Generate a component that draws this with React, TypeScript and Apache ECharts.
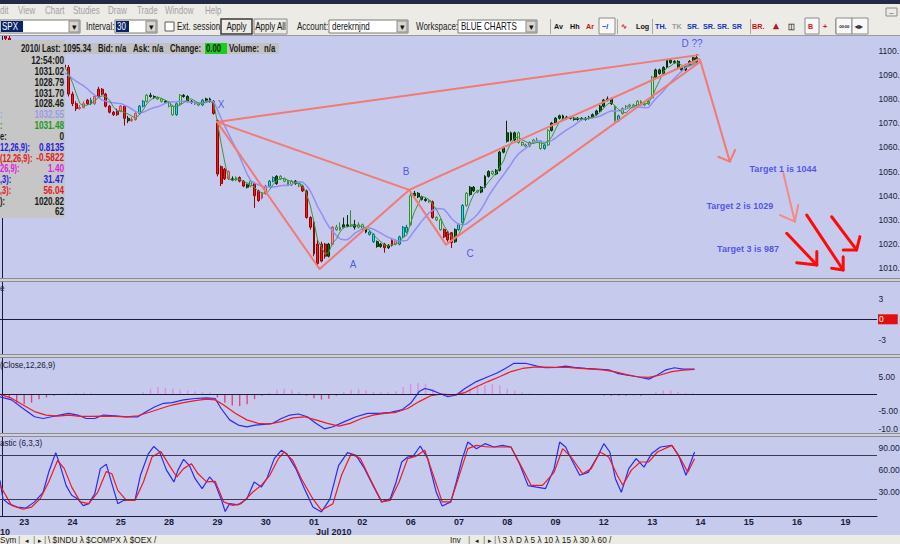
import React, { useEffect, useRef } from "react";
import * as echarts from "echarts";

const FONT = '"Liberation Sans", Arial, Helvetica, sans-serif';

// ---------------- data ----------------
const barCount = 236;
const dayStartIndex = [6, 19, 32, 45, 58, 71, 84, 97, 110, 123, 136, 149, 162, 175, 188, 201, 214, 227];
const dayLabels = ["23", "24", "25", "28", "29", "30", "01", "02", "06", "07", "08", "09", "12", "13", "14", "15", "16", "19"];

// 30-minute bars: [open, close, low, high]
const ohlc: number[][] = [
  [1109,1107,1106,1110],[1107,1105,1104,1108],[1105,1103,1102,1106],[1103,1100,1099,1104],[1100,1097,1096,1101],[1097,1095,1094,1098],
  [1096,1098,1095,1099],[1098,1097,1096,1099.5],[1097,1094,1093,1098],[1094,1090,1089,1095],[1090,1087,1086,1091],[1087,1086,1085,1088],
  [1086,1088,1085.5,1089],[1088,1091,1087,1092],[1091,1093,1090,1094],[1093,1092,1091,1094],[1092,1094,1091,1095],[1094,1093,1092,1095],
  [1093,1082,1081,1094],[1082,1078,1077,1083],[1078,1076,1075,1079],[1076,1076.5,1075.5,1077.5],[1076.5,1078,1076,1079],[1078,1079.5,1077.5,1080],
  [1079.5,1078,1077.5,1080.5],[1078,1081,1077.5,1081.5],[1081,1084,1080.5,1085],[1084,1082,1081.5,1084.5],[1082,1077,1076.5,1082.5],[1077,1074.5,1074,1077.5],
  [1074.5,1073.5,1073,1075],[1073.5,1075,1073,1076],[1075,1077,1074.5,1077.5],[1077,1072,1069,1077.5],[1072,1071,1070,1073],[1071,1071.5,1070.5,1072.5],
  [1071.5,1074,1071,1074.5],[1074,1077,1073.5,1077.5],[1077,1079,1076.5,1079.5],[1079,1081.5,1078.5,1082],[1081.5,1081,1080.5,1082.5],[1081,1080.5,1080,1081.5],
  [1080.5,1080,1079.5,1081],[1080,1079,1078.5,1080.5],[1079,1078.5,1078,1079.5],[1078.5,1077,1076.5,1079],[1077,1073.5,1073,1077.5],[1073.5,1078,1073,1078.5],
  [1078,1081.5,1077.5,1082],[1081.5,1081,1080.5,1082],[1081,1079,1078.5,1081.5],[1079,1078.5,1078,1079.5],[1078.5,1078,1077.5,1079],[1078,1077.5,1077,1078.5],
  [1077.5,1079.5,1077,1080],[1079.5,1080,1079,1080.5],[1080,1079,1078.5,1080.5],[1079,1074,1073.5,1079.5],
  [1071,1049,1048,1071.5],[1052,1045,1044,1052.5],[1051,1047,1046.5,1051.5],[1050,1047,1046.5,1050.5],[1047,1046.5,1046,1048],[1046.5,1047.5,1046,1048],
  [1047.5,1046,1045.5,1048],[1046,1044,1043.5,1046.5],[1044.5,1043.5,1043,1045],[1044,1046,1043.5,1046.5],[1045,1040,1035,1045.5],[1042,1038,1037.5,1042.5],
  [1039,1041,1038.5,1041.5],
  [1041,1044,1040.5,1044.5],[1044,1046,1043.5,1046.5],[1046,1047.5,1045.5,1048],[1045,1048,1044.5,1048.5],[1048,1047,1046.5,1048.5],[1047,1046,1045.5,1047.5],
  [1046,1044.5,1044,1046.5],[1044.5,1046,1044,1046.5],[1046,1045,1044.5,1046.5],[1045,1044,1043.5,1045.5],[1044,1042,1041.5,1044.5],[1042,1031,1030.5,1042.5],
  [1031,1027,1026,1031.5],
  [1029,1016,1015,1029.5],[1020,1012,1010.5,1022],[1013,1020,1012.5,1021],[1020,1015,1014,1020.5],[1015,1020,1014.5,1020.5],[1020,1027,1019.5,1027.5],
  [1027,1026,1025.5,1028],[1026,1027,1025.5,1029],[1027,1028,1026.5,1031],[1028,1027.5,1027,1032],[1027.5,1028,1027,1034],[1028,1027,1026,1030],
  [1027,1028,1026.5,1029],
  [1028,1026,1025.5,1028.5],[1026,1025,1024.5,1027],[1025,1024,1023.5,1025.5],[1024,1021,1020.5,1024.5],[1021,1019,1018.5,1021.5],[1019,1020,1018.5,1020.5],
  [1020,1018.5,1016.5,1020.5],[1018.5,1019.5,1018,1020],[1019.5,1021.5,1019,1022],[1021.5,1020,1019.5,1022],[1020,1023,1019.5,1023.5],[1023,1027,1022.5,1027.5],
  [1027,1025,1024.5,1028],
  [1028,1040,1027.5,1041.5],[1040,1041,1039.5,1042],[1041,1039.5,1039,1041.5],[1039.5,1038.5,1038,1040],[1038.5,1038,1037.5,1039],[1038,1037.5,1037,1038.5],
  [1037.5,1031,1030.5,1038],[1031,1030,1029.5,1031.5],[1030,1026,1025.5,1030.5],[1026,1023,1022.5,1026.5],[1025,1021.8,1021,1025.5],[1024.7,1020.6,1018.4,1025],
  [1021,1026,1020.5,1026.5],
  [1026,1028,1025.5,1028.5],[1029,1036,1028.5,1036.5],[1036,1041,1035.5,1041.5],[1040.5,1043.5,1040,1044],[1043.5,1042,1041.5,1044],[1042,1041.5,1041,1042.5],
  [1041.5,1043.5,1041,1044],[1043.5,1048,1043,1048.5],[1048,1050,1047.5,1050.5],[1050,1049,1048.5,1050.5],[1049,1050.5,1048.5,1051],[1050.5,1058,1050,1058.5],
  [1058,1060,1057.5,1060.5],
  [1062.5,1066,1062,1071],[1066,1063,1062.5,1066.5],[1063,1066,1062.5,1066.5],[1066,1062,1061.5,1066.5],[1062,1061,1060.5,1062.5],[1061,1060.5,1060,1061.5],
  [1060.5,1062,1060,1062.5],[1062,1063,1061.5,1063.5],[1063,1062.5,1062,1064],[1062.5,1059.5,1059,1063],[1059.5,1061,1059,1061.5],[1061,1067,1060.5,1067.5],
  [1067,1070,1066.5,1070.5],
  [1070,1072,1069.5,1072.5],[1072,1073,1071.5,1073.5],[1073,1072,1071.5,1073.5],[1072,1072.5,1071.5,1073],[1072.5,1072,1071.5,1073],[1072,1071.5,1071,1072.5],
  [1071.5,1072,1071,1072.5],[1072,1071.5,1071,1072.5],[1071.5,1072,1071,1072.5],[1072,1072.5,1071.5,1073],[1072.5,1073.5,1072,1074],[1073.5,1075,1073,1075.5],
  [1075,1077,1074.5,1077.5],
  [1077,1079.5,1076.5,1080],[1079.5,1080,1079,1081],[1080,1078,1077.5,1080.5],[1077,1071,1070.5,1077.5],[1071,1073,1070.5,1073.5],[1074,1076,1073.5,1076.5],
  [1076,1077,1075.5,1077.5],[1077,1077.5,1076.5,1078],[1077.5,1077,1076.5,1078],[1077,1079,1076.5,1079.5],[1079,1077.5,1077,1079.5],[1077.5,1078,1077,1078.5],
  [1078,1079,1077.5,1079.5],
  [1080.5,1089,1080,1089.5],[1089,1092,1088.5,1092.5],[1092,1090.5,1090,1092.5],[1090.5,1093,1090,1093.5],[1093,1096,1092.5,1096.5],[1096,1095,1094.5,1096.5],
  [1095,1095.5,1094.5,1096],[1095.5,1093,1092.5,1096],[1093,1092,1091.5,1093.5],[1092,1094,1091.5,1094.5],[1094,1095.5,1093.5,1096],[1095.5,1097,1095,1097.5],
  [1097,1095.34,1095,1098.5],
];

// candle colour code per bar (r red, s salmon, c cyan, l light green, g dark green)
const barColors =
  "rrrrrr" + "rrrrrrcccgrr" +
  "rrrssrcsrr" + "rrrrsrgssc" + "clggllgllc" + "lgggllcggr" + "rrrsglrrgl" +
  "rrssccglll" + "lglrrrrrrr" + "gsllgglgll" + "gccggrgrsc" + "cclgggglrl" +
  "lrrrgcclgg" + "lggglggggg" + "glllllllcl" + "gggggggggg" + "ggggggglcl" +
  "llllllllgg" + "gggggggggg";

const priceTicks = [1010, 1020, 1030, 1040, 1050, 1060, 1070, 1080, 1090, 1100];
const panel2Ticks = [3, -3];
const macdTicks = [5, -5, -10];
const stochTicks = [90, 60, 30];

// MACD (12,26,9): [bar, value]
const macdLine = [
  [-0.5,-0.8],[2.6,-1.7],[5.7,-4.2],[8.8,-6.6],[11.1,-7.1],[13.4,-6.6],[16.5,-5.9],[18,-5.6],[20.4,-6.1],[22.7,-7.1],[25,-7.1],[27.3,-6.1],
  [30.4,-6.3],[33.5,-6.6],[36.6,-6.6],[38.9,-5.1],[41.2,-3.7],[43.5,-2.7],[45.8,-2.5],[48.9,-1.7],[52,-1.3],[55.1,-1.1],[57.4,-1.3],[59,-4.2],
  [61.3,-7.5],[63.6,-9],[65.9,-9.5],[68.2,-9],[70.6,-8.8],[72.9,-8.5],[75.2,-7.1],[77.5,-6.1],[79.8,-5.8],[82.2,-6.6],[84.5,-8.5],[86.8,-10.1],
  [89.1,-9.5],[92.2,-8],[95.3,-6.6],[98.4,-5.6],[101.5,-5.6],[104.6,-5.3],[107.6,-4.6],[110,-2.7],[112.3,0.7],[113.8,1.6],[115.4,1.2],[117.7,0.2],
  [120,-0.8],[122.3,-0.3],[124.6,1.6],[127.7,3.6],[130.8,5],[133.1,6],[135.5,7.4],[137.8,8.9],[140.9,8.9],[144,8.1],[146.3,7.6],[149.4,7.7],
  [151.7,8.1],[154,7.7],[157.1,7.4],[160.2,7.2],[163.3,7],[165.6,6],[167.9,5.5],[171,5],[174.1,4.3],[176.4,5.5],[178.7,7],[181,7.6],[183.3,7.2],[186.4,7.2],
];
const signalLine = [
  [-0.5,-0.1],[2.6,-1.2],[5.7,-3.2],[8.8,-5.1],[11.9,-6.1],[15,-6.4],[18,-6.1],[21.1,-6.5],[24.2,-6.5],[27.3,-6.4],[30.4,-6.5],[33.5,-6.6],
  [36.6,-6.3],[39.7,-5.3],[42.8,-4.2],[45.8,-3.2],[48.9,-2.5],[52,-1.9],[55.1,-1.5],[57.4,-1.7],[59.7,-3.2],[62.8,-5.6],[65.9,-7.5],[69,-8.5],
  [72.1,-8.7],[75.2,-8],[78.3,-6.9],[81.4,-6.6],[84.5,-7.5],[87.6,-8.5],[90.7,-9.3],[93.7,-8.5],[96.8,-7.1],[99.9,-6.1],[103,-5.6],[106.1,-5.3],
  [109.2,-4.2],[112.3,-2.2],[115.4,-0.5],[118.5,0],[121.5,-0.3],[124.6,0.4],[127.7,2.1],[130.8,3.6],[133.9,5],[137,6.5],[140.1,7.4],[143.2,7.8],
  [146.3,7.8],[149.4,7.7],[152.4,7.7],[155.5,7.4],[158.6,7.2],[161.7,7],[164.8,6.5],[167.9,5.7],[171,5],[174.1,4.8],[177.2,5.5],[180.3,6.5],
  [183.3,6.9],[186.4,7.1],
];
const macdHist = [
  [0,-0.6],[2,-1.2],[4,-2.5],[6,-3],[8,-2.5],[10,-1.5],[12,-1],[14,-0.5],[16,0.1],[18,0.2],[20,0.3],[22,0.4],[24,0.2],[26,-0.1],[28,-0.2],
  [30,-0.1],[32,0],[34,0],[36,-0.2],[38,0.5],[40,1.5],[42,2],[44,1.8],[46,1.5],[48,1.2],[50,1],[52,0.8],[54,0.6],[56,0.4],[58,-1],[60,-2.5],
  [62,-3.3],[64,-3.5],[66,-3],[68,-1.5],[70,-0.5],[72,0.3],[74,1.2],[76,1.5],[78,1.2],[80,0.6],[82,-0.5],[84,-1.2],[86,-1.6],[88,-1.4],[90,-0.5],
  [92,0.5],[94,1.2],[96,1.4],[98,1],[100,0.6],[102,0.5],[104,0.5],[106,0.8],[108,2],[110,2.8],[112,3.2],[114,3],[116,1.5],[118,0.2],[120,-0.5],
  [122,-0.3],[124,0.8],[126,1.5],[128,2],[130,2.5],[132,2.8],[134,2.5],[136,1.5],[138,1],[140,0.5],[142,0.2],[144,0],[146,-0.2],[148,0.1],
  [150,0],[152,0.1],[154,0],[156,0],[158,-0.1],[160,-0.2],[162,-0.4],[164,-0.5],[166,-0.5],[168,-0.5],[170,-0.4],[172,-0.5],[174,-0.3],
  [176,0.5],[178,1],[180,1.1],[182,0.6],[184,0.3],[186,0.2],
];

// Stochastic (6,3,3): [bar, value]
const stochK = [
  [-0.5,46],[0.3,21],[1.8,14.6],[4.1,10],[6.5,8.7],[8.8,17],[11.1,30],[12.6,57],[14.5,83.6],[15.7,66],[17.3,39],[18.8,26],[20.4,21],[21.9,12],
  [23.4,14.6],[25,28],[26.5,62],[28.1,68],[29.6,41.7],[31.2,14.6],[32.7,19],[34.3,19],[35.8,19],[37.3,53],[39.4,82],[40.9,92],[42.4,85],
  [44.3,60],[46.3,44],[47.4,60],[48.9,74.6],[50.5,66],[52,48.4],[53.9,35],[55.9,50.7],[57.4,41.7],[59,21],[60.1,4],[61.3,14.6],[63.6,13],
  [65.9,21],[67.9,44],[69.8,37],[71.3,48.4],[73.3,75.5],[75.2,86.8],[76.7,82],[79.1,62],[81.4,35],[83.7,10],[86,3.3],[88.3,21],[90.6,66],
  [93,83.6],[95.3,80],[97.6,62],[99.9,39],[102.2,17],[104.5,21],[106.1,44],[107.6,71],[109.2,77.7],[110.7,79],[112.6,92.6],[114.6,75.5],
  [116.9,30],[118.5,11.4],[120.8,17],[122.3,44],[123.9,75.5],[125.4,98],[127.7,89],[130,95.8],[132.4,91.3],[134.7,93.5],[137,91.3],[139.3,68.7],
  [141.6,39],[143.9,37],[146.3,35],[148.6,62],[150.1,98],[151.7,91.3],[153.2,75.5],[155.5,53],[157.8,57],[160.2,77.7],[162,95.8],[163.6,84.5],
  [165.1,48.4],[166.7,30],[168.7,62],[170.7,75.5],[172.8,64],[174.8,82],[177.2,91.3],[180.3,93.5],[182.1,80],[184.1,53],[186.4,84.5],
];
const stochD = [
  [-0.5,39.4],[2.6,12.3],[5.7,7],[8,10],[10.3,21],[12.6,44],[15,73],[16.8,62],[18.8,37],[21.1,17],[23.4,14.6],[25.8,30],[28.1,58],[29.6,55],
  [31.2,32.6],[33.5,19],[35.8,19],[38.1,44],[40.4,77.7],[42.8,85],[45.1,66],[47.1,50.7],[48.9,62],[51,68.7],[52.8,55],[55.1,44],[57.4,44.8],
  [59.7,17],[62.1,12.3],[64.4,14.6],[67.5,30],[69.8,39.4],[72.1,53],[74.4,75.5],[76,84.5],[78.3,73],[80.6,48.4],[83.7,21],[86,5.6],[89.1,14.6],
  [91.4,53],[94,82],[96.5,75.5],[99.1,48.4],[102.2,17],[104.5,19],[106.9,44],[109.2,75.5],[111.5,79],[113.8,86.8],[116.1,53],[118.5,17],
  [120.8,17],[123.1,53],[125.4,89],[127.7,93.5],[130.8,91.3],[133.9,91.3],[137,91.3],[140.1,62],[142.4,39.4],[145.5,39.4],[148.6,57],[150.9,89],
  [153.2,77.7],[156.3,55],[158.6,62],[161,84.5],[163.3,77.7],[165.6,53],[167.1,39.4],[169.4,60],[171.8,71],[174.1,71],[176.4,84.5],[180.3,93.5],
  [182.6,75.5],[184.6,57],[186.4,75.5],
];

// readouts shown in the right-hand boxes (as far as the window shows them)
const lastPrice = 1095.34;
const lastPriceText = "1095.";
const panel2Value = 0;
const macdReadout = 6.6;
const histReadout = 0.078;
const stochReadout = 76.92;

// drawn XABCD pattern and arrows, in [bar, price]
const patternPath = [[57.9,1070.5],[85.5,1009.7],[109.6,1042.4],[119.5,1019.8],[187.9,1095.3]];
const patternXB = [[57.9,1070.5],[109.6,1042.4]];
const patternBD = [[109.6,1042.4],[187.6,1096.5]];
const patternXD = [[57.9,1070.5],[187.3,1098.1]];
const arrowD = [[187.9,1096.1],[195.9,1054.1]];
const arrowDHead = [[192.8,1056.1],[195.9,1054.1],[197.3,1058.9]];
const arrowT1 = [[210.3,1049.3],[213.4,1029.3]];
const arrowT1Head = [[209.4,1032.0],[213.4,1029.3],[214.3,1036.2]];
const arrowR1 = [[211.2,1024.5],[219.3,1011.4]];
const arrowR1Head = [[213.9,1012.3],[219.3,1011.4],[219.3,1016.9]];
const arrowR2 = [[216.6,1032.0],[226.4,1009.3]];
const arrowR2Head = [[223.3,1010.0],[226.4,1009.3],[226.4,1014.8]];
const arrowR3 = [[223.3,1031.3],[230.0,1017.6]];
const arrowR3Head = [[226.4,1017.6],[230.0,1017.6],[230.9,1023.1]];

const noteTexts = ["X", "A", "B", "C", "D ??", "Target 1 is 1044", "Target 2 is 1029", "Target 3 is 987"];
const notePos = [[59,1077.5],[94.5,1011.4],[108.8,1050.2],[126,1016.3],[185.7,1102.7],[210.2,1051],[198.6,1035.8],[200.8,1018]];

// ---------------- helpers ----------------
const palette: Record<string, [string, string]> = {
  r: ["#ee1a1a", "#980000"],
  s: ["#f39292", "#c05050"],
  c: ["#22e2e2", "#0a7070"],
  l: ["#b6f0b6", "#3a883a"],
  g: ["#0c6a0c", "#033003"],
};

const categories = Array.from({ length: barCount }, (_, i) => "b" + i);
const labelAt = (i: number) => {
  const k = dayStartIndex.indexOf(i);
  return k >= 0 ? dayLabels[k] : "";
};
const closes = ohlc.map((r) => r[1]);
const sma = (n: number) =>
  closes.map((_, i) => {
    if (i < n - 1) return null;
    let s = 0;
    for (let j = i - n + 1; j <= i; j++) s += closes[j];
    return +(s / n).toFixed(2);
  });

const seg = (data: number[][], color: string, width: number) => ({
  type: "line",
  xAxisIndex: 1,
  yAxisIndex: 0,
  data,
  showSymbol: false,
  symbol: "none",
  silent: true,
  z: 5,
  lineStyle: { color, width, cap: "round", join: "round" },
});

const boxLabel = (text: string, bg: string, color = "#fff") => ({
  show: true,
  position: "end",
  distance: 1,
  formatter: text,
  color,
  backgroundColor: bg,
  padding: [1, 1, 0, 1],
  fontSize: 8.5,
  fontFamily: FONT,
});

const yBase = (gridIndex: number, min: number, max: number, ticks: number[], fmt: (v: number) => string) => ({
  type: "value",
  gridIndex,
  position: "right",
  min,
  max,
  axisLine: { show: true, lineStyle: { color: "#1a1a3a", width: 1 } },
  axisTick: { show: false },
  splitLine: { show: false },
  axisLabel: { color: "#1a1a3a", fontSize: 8.5, fontFamily: FONT, margin: 1.5, customValues: ticks, formatter: fmt },
});

function buildChrome() {
  const g: any[] = [];
  const R = (x: number, y: number, w: number, h: number, fill: string, stroke?: string, lw = 1, z = 100) =>
    g.push({ type: "rect", z, silent: true, shape: { x, y, width: w, height: h }, style: { fill, stroke: stroke || null, lineWidth: stroke ? lw : 0 } });
  const T = (x: number, y: number, text: string, fill = "#111", font = `10px ${FONT}`, align = "left", sx = 0.8, z = 101, va = "middle") =>
    g.push({ type: "text", z, silent: true, x, y, scaleX: sx, style: { text, fill, font, textAlign: align, textVerticalAlign: va } });
  const L = (x1: number, y1: number, x2: number, y2: number, stroke: string, lw = 1) =>
    g.push({ type: "line", z: 100, silent: true, shape: { x1, y1, x2, y2 }, style: { stroke, lineWidth: lw } });

  // title strip, menu, toolbar
  R(0, 0, 900, 4, "#242a44");
  R(0, 4, 900, 32, "#ecebe6");
  L(0, 35.5, 900, 35.5, "#9a9a9a");
  const menu: [number, string][] = [[0, "dit"], [18, "View"], [45, "Chart"], [73, "Studies"], [108, "Draw"], [137, "Trade"], [165, "Window"], [205, "Help"]];
  menu.forEach(([x, t]) => T(x, 11, t, "#a2a2a2"));
  R(886, 8, 11, 8, "#ecebe6", "#8a8a8a");
  T(891.5, 12, "–", "#555", `8px ${FONT}`, "center", 1);

  const combo = (x: number, w: number, text: string, hl?: number) => {
    R(x, 20, w, 13, "#ffffff", "#7a7a7a");
    if (hl) {
      R(x + 1, 21, hl, 11, "#0a246a");
      T(x + 2, 26.5, text, "#ffffff");
    } else T(x + 3, 26.5, text, "#111");
    R(x + w - 11, 21, 10, 11, "#d8d6d0", "#8a8a8a");
    T(x + w - 6, 27, "▾", "#111", `9px ${FONT}`, "center", 1);
  };
  combo(0, 80, "SPX", 22);
  T(86, 26.5, "Interval:", "#222");
  combo(115, 42, "30", 13);
  R(165, 22, 9, 9, "#ffffff", "#5a5a5a");
  T(177, 26.5, "Ext. session", "#222");
  R(221, 19, 31, 15, "#ecebe6", "#3a3a3a", 1.5);
  T(236.5, 26.5, "Apply", "#111", `10px ${FONT}`, "center");
  R(254, 19, 33, 15, "#ecebe6", "#8a8a8a");
  T(270.5, 26.5, "Apply All", "#111", `10px ${FONT}`, "center");
  T(297, 26.5, "Account:", "#222");
  combo(329, 79, "derekrnjnd");
  T(416, 26.5, "Workspace:", "#222");
  combo(458, 79, "BLUE CHARTS");
  [550, 617, 652, 750, 805, 835].forEach((x) => L(x + 0.5, 19, x + 0.5, 34, "#a8a8a8"));
  const icons: [number, string, string][] = [
    [554, "Av", "#111"], [570, "Hh", "#111"], [586, "Ar", "#cc1010"], [602, "~/", "#1030d0"], [621, "∿", "#d02020"],
    [636, "Log", "#111"], [655, "TH.", "#1030c0"], [672, "TK", "#9a9a9a"], [687, "SR.", "#1030c0"], [703, "SR.", "#1030c0"],
    [717, "SR.", "#1030c0"], [732, "SR", "#1030c0"], [752, "BR.", "#cc1010"], [773, "⛰", "#aa2020"], [788, "◫", "#333"],
    [808, "B", "#dd1010"], [823, "+", "#dd1010"], [839, "∞∞", "#333"], [855, "◂▸", "#333"],
  ];
  R(599, 18, 16, 16, "#f8f8f8", "#8a8a8a");
  R(805, 18, 14, 16, "#f8f8f8", "#8a8a8a");
  R(836, 18, 16, 16, "#f8f8f8", "#8a8a8a");
  R(852, 18, 16, 16, "#f8f8f8", "#8a8a8a");
  icons.forEach(([x, t, c]) => T(x, 26, t, c, `bold 8px ${FONT}`, "left", 0.9));

  // data window panel (sits under the quote strip)
  R(0, 40, 65, 178, "#c6c6c6", undefined, 1, 98);
  T(21, 48.5, "2010/07/01", "#1a1a1a", `bold 10px ${FONT}`, "left", 0.78, 99);
  const rows: [string, string, string][] = [
    ["", "12:54:00", "#1a1a1a"], ["", "1031.02", "#1a1a1a"], ["", "1028.79", "#1a1a1a"], ["", "1031.70", "#1a1a1a"], ["", "1028.46", "#1a1a1a"],
    [":", "1032.55", "#9a9af4"], [":", "1031.48", "#1a9a1a"], ["e:", "0", "#1a1a1a"], ["12,26,9):", "0.8135", "#2020e0"],
    ["(12,26,9):", "-0.5822", "#e01a1a"], ["26,9):", "1.40", "#e01ae0"], [",3):", "31.47", "#2020e0"], [",3):", "56.04", "#e01a1a"],
    ["):", "1020.82", "#1a1a1a"], ["", "62", "#1a1a1a"],
  ];
  rows.forEach(([lab, val, col], k) => {
    const y = 61 + k * 10.8;
    if (lab) T(0, y, lab, col, `bold 10px ${FONT}`, "left", 0.75, 99);
    T(64, y, val, col, `bold 10px ${FONT}`, "right", 0.82, 99);
  });

  // quote strip
  R(40, 43, 239, 11, "#c2c2c2", undefined, 1, 102);
  R(205, 43, 22, 11, "#18d018", undefined, 1, 102);
  const quote: [number, string][] = [[42, "Last:"], [63, "1095.34"], [98, "Bid:"], [115, "n/a"], [133, "Ask:"], [152, "n/a"], [170, "Change:"], [206, "0.00"], [229, "Volume:"], [264, "n/a"]];
  quote.forEach(([x, t]) => T(x, 48.5, t, "#1a1a1a", `bold 10px ${FONT}`, "left", 0.78, 103));

  // panel separators
  const band = (y: number, h: number) => {
    R(0, y, 900, h, "#cfcfd4");
    L(0, y + 0.5, 900, y + 0.5, "#8c8c96");
    L(0, y + h - 0.5, 900, y + h - 0.5, "#8c8c96");
  };
  band(278, 4);
  band(354, 4);
  band(433, 4);

  // panel titles
  T(0, 287.5, "e", "#1a1a3a", `9px ${FONT}`, "left", 0.9);
  T(0, 364.5, "(Close,12,26,9)", "#1a1a3a", `9px ${FONT}`, "left", 0.9);
  T(0, 443, "astic (6,3,3)", "#1a1a3a", `9px ${FONT}`, "left", 0.9);

  // month captions under the date axis (the June one is cut by the window edge)
  T(0, 527.5, "10", "#1a1a3a", `bold 9px ${FONT}`, "left", 1, 101, "top");
  T(316, 527.5, "Jul 2010", "#1a1a3a", `bold 9px ${FONT}`, "left", 1, 101, "top");

  // bottom tab strip
  R(0, 535, 900, 9, "#ecebe6");
  const tabs = (x0: number, lead: string, list: string) => {
    T(x0, 540, lead, "#1a1a1a", `9px ${FONT}`, "left", 0.9);
    T(x0 + 18, 540, "|", "#777", `9px ${FONT}`, "left", 1);
    T(x0 + 25, 540, "◂", "#1a1a1a", `7px ${FONT}`, "left", 1);
    T(x0 + 33, 540, "|", "#777", `9px ${FONT}`, "left", 1);
    T(x0 + 38, 540, "▸", "#1a1a1a", `7px ${FONT}`, "left", 1);
    T(x0 + 44, 540, "|", "#777", `9px ${FONT}`, "left", 1);
    T(x0 + 48, 540, list, "#1a1a1a", `9px ${FONT}`, "left", 0.92);
  };
  tabs(0, "Sym", "\\ $INDU λ $COMPX λ $OEX /");
  tabs(450, "Inv", "\\ 3 λ D λ 5 λ 10 λ 15 λ 30 λ 60 /");
  return g;
}

export default function App() {
  const ref = useRef<HTMLDivElement>(null);
  useEffect(() => {
    const chart = echarts.init(ref.current!, null, { renderer: "svg" });
    const hidden = (gridIndex: number) => ({ type: "value", gridIndex, min: -0.5, max: barCount - 0.5, show: false, position: "top" });
    const gridBox = (top: number, height: number) => ({ left: 0, width: 877, top, height, containLabel: false, outerBoundsMode: "none" });
    const option: any = {
      animation: false,
      backgroundColor: "#c6cbee",
      textStyle: { fontFamily: FONT },
      grid: [gridBox(36, 242), gridBox(282, 72), gridBox(358, 75), gridBox(437, 79)],
      xAxis: [
        { type: "category", gridIndex: 0, data: categories, show: false },
        hidden(0),
        hidden(1),
        hidden(2),
        hidden(3),
        {
          type: "category", gridIndex: 3, data: categories, position: "bottom",
          axisLine: { show: true, lineStyle: { color: "#1a1a3a", width: 1 } },
          axisTick: { show: false },
          axisLabel: { interval: 0, formatter: (_v: string, i: number) => labelAt(i), color: "#1a1a3a", fontSize: 9, fontWeight: "bold", fontFamily: FONT, margin: 1 },
        },
      ],
      yAxis: [
        yBase(0, 1006, 1106, priceTicks, (v) => v + "."),
        yBase(1, -5.13, 5.51, panel2Ticks, (v) => String(v)),
        yBase(2, -11.3, 10.43, macdTicks, (v) => (v <= -10 ? v.toFixed(1) : v.toFixed(2))),
        yBase(3, -2.1, 104.8, stochTicks, (v) => v.toFixed(2)),
      ],
      series: [
        {
          type: "candlestick",
          xAxisIndex: 0,
          yAxisIndex: 0,
          silent: true,
          barWidth: 2.4,
          data: ohlc.map((v, i) => {
            const [fill, edge] = palette[barColors[i]] || palette.g;
            return { value: v, itemStyle: { color: fill, color0: fill, borderColor: edge, borderColor0: edge, borderWidth: 1 } };
          }),
          markLine: {
            silent: true, symbol: "none", lineStyle: { opacity: 0 },
            data: [{ yAxis: lastPrice, label: boxLabel(lastPriceText, "#000000") }],
          },
        },
        { type: "line", xAxisIndex: 0, yAxisIndex: 0, data: sma(10), showSymbol: false, silent: true, lineStyle: { color: "#8f8ff6", width: 1.5 }, z: 3 },
        { type: "line", xAxisIndex: 0, yAxisIndex: 0, data: sma(4), showSymbol: false, silent: true, lineStyle: { color: "#3c963c", width: 1 }, z: 3 },
        seg(patternPath, "#f27a72", 2),
        seg(patternXB, "#f27a72", 2),
        seg(patternBD, "#f27a72", 2),
        seg(patternXD, "#f27a72", 2),
        seg(arrowD, "#f27a72", 2),
        seg(arrowDHead, "#f27a72", 2),
        seg(arrowT1, "#f48a80", 2),
        seg(arrowT1Head, "#f48a80", 2),
        seg(arrowR1, "#ff0a0a", 3),
        seg(arrowR1Head, "#ff0a0a", 3),
        seg(arrowR2, "#ff0a0a", 3),
        seg(arrowR2Head, "#ff0a0a", 3),
        seg(arrowR3, "#ff0a0a", 3),
        seg(arrowR3Head, "#ff0a0a", 3),
        {
          type: "scatter", xAxisIndex: 1, yAxisIndex: 0, symbolSize: 0, silent: true, z: 6,
          data: noteTexts.map((t, k) => ({
            name: t, value: notePos[k],
            label: { fontWeight: t.length > 4 ? "bold" : "normal", fontSize: t.length > 4 ? 9 : 10 },
          })),
          label: { show: true, position: "inside", formatter: "{b}", color: "#3434e6", fontFamily: FONT },
        },
        {
          type: "line", xAxisIndex: 2, yAxisIndex: 1, data: [], silent: true,
          markLine: {
            silent: true, symbol: "none",
            data: [{ yAxis: panel2Value, lineStyle: { color: "#1a1a3a", width: 1.2, type: "solid" }, label: { ...boxLabel("0", "#e01010"), padding: [1, 14, 0, 1] } }],
          },
        },
        {
          type: "bar", xAxisIndex: 3, yAxisIndex: 2, data: macdHist, barWidth: 1.4, silent: true,
          itemStyle: { color: (p: any) => (p.value[1] >= 0 ? "#de8ce4" : "#e0467a") },
          markLine: {
            silent: true, symbol: "none",
            data: [{ yAxis: histReadout, lineStyle: { opacity: 0 }, label: boxLabel(String(histReadout), "#ee10ee") }],
          },
        },
        {
          type: "line", xAxisIndex: 3, yAxisIndex: 2, data: macdLine, showSymbol: false, silent: true, z: 4,
          lineStyle: { color: "#2a2af2", width: 1.2 },
          markLine: {
            silent: true, symbol: "none",
            data: [
              { yAxis: 0, lineStyle: { color: "#1a1a3a", width: 1.2, type: "solid" }, label: { show: false } },
              { yAxis: macdReadout, lineStyle: { opacity: 0 }, label: boxLabel(macdReadout.toFixed(2), "#e01010") },
            ],
          },
        },
        { type: "line", xAxisIndex: 3, yAxisIndex: 2, data: signalLine, showSymbol: false, silent: true, z: 4, lineStyle: { color: "#f21a1a", width: 1.2 } },
        {
          type: "line", xAxisIndex: 4, yAxisIndex: 3, data: stochK, showSymbol: false, silent: true, z: 4,
          lineStyle: { color: "#2a2af2", width: 1.2 },
          markLine: {
            silent: true, symbol: "none",
            data: [
              { yAxis: 80, lineStyle: { color: "#3a3a52", width: 1.2, type: "solid" }, label: { show: false } },
              { yAxis: 20, lineStyle: { color: "#3a3a52", width: 1.2, type: "solid" }, label: { show: false } },
              { yAxis: stochReadout, lineStyle: { opacity: 0 }, label: boxLabel(stochReadout.toFixed(2), "#e01010") },
            ],
          },
        },
        { type: "line", xAxisIndex: 4, yAxisIndex: 3, data: stochD, showSymbol: false, silent: true, z: 4, lineStyle: { color: "#f21a1a", width: 1.2 } },
      ],
      graphic: buildChrome(),
    };
    chart.setOption(option);
    return () => chart.dispose();
  }, []);
  return <div ref={ref} style={{ position: "absolute", left: 0, top: 0, width: 900, height: 544 }} />;
}
